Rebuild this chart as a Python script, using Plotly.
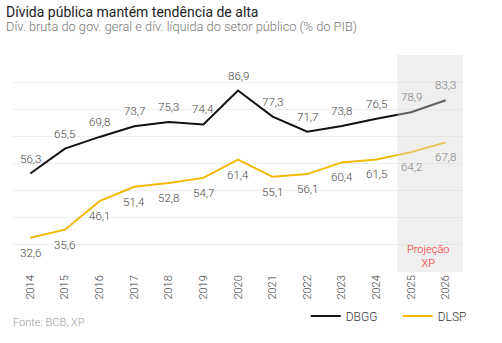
import plotly.graph_objects as go

years = list(range(2014, 2027))
dbgg = [56.3, 65.5, 69.8, 73.7, 75.3, 74.4, 86.9, 77.3, 71.7, 73.8, 76.5, 78.9, 83.3]
dlsp = [32.6, 35.6, 46.1, 51.4, 52.8, 54.7, 61.4, 55.1, 56.1, 60.4, 61.5, 64.2, 67.8]
proj_start = 2024.6

def fmt(v):
    return f"{v:.1f}".replace(".", ",")

FONT = "Roboto"

W, H = 502, 343
ml, mr, mt, mb = 13, 14, 55, 66
pw, ph = W - ml - mr, H - mt - mb

def px(xp):
    return (xp - ml) / pw

def py(yp):
    return (H - mb - yp) / ph

def lab_font(x):
    col = "#808080" if x > proj_start else "#444444"
    return dict(family=FONT, size=11.5, color=col, weight=300)

fig = go.Figure()
fig.add_trace(go.Scatter(x=years, y=dbgg, name="DBGG", mode="lines",
                         line=dict(color="#111111", width=2)))
fig.add_trace(go.Scatter(x=years, y=dlsp, name="DLSP", mode="lines",
                         line=dict(color="#f5b800", width=2)))

# value labels
for x, v in zip(years, dbgg):
    fig.add_annotation(x=x, y=v, text=fmt(v), showarrow=False, yshift=15,
                       font=lab_font(x), yanchor="middle")
for x, v in zip(years, dlsp):
    fig.add_annotation(x=x, y=v, text=fmt(v), showarrow=False, yshift=-15,
                       font=lab_font(x), yanchor="middle")

# projection shading (overlay)
fig.add_shape(type="rect", xref="x", yref="y", x0=proj_start, x1=2026.5, y0=20, y1=100,
              fillcolor="rgba(215,215,215,0.4)", line_width=0, layer="above")

fig.add_annotation(x=2025.5, y=py(261), xref="x", yref="paper", text="Projeção<br>XP",
                   showarrow=False, font=dict(family=FONT, size=11, color="#ff2b2b", weight=300),
                   yanchor="middle")

fig.add_annotation(x=px(4), y=py(11), xref="paper", yref="paper",
                   text="Dívida pública mantém tendência de alta",
                   showarrow=False, xanchor="left", yanchor="middle",
                   font=dict(family=FONT, size=14, color="#222222"))
fig.add_annotation(x=px(4), y=py(26), xref="paper", yref="paper",
                   text="Dív. bruta do gov. geral e dív. líquida do setor público (% do PIB)",
                   showarrow=False, xanchor="left", yanchor="middle",
                   font=dict(family=FONT, size=12.8, color="#777777", weight=300))
fig.add_annotation(x=px(11), y=py(329), xref="paper", yref="paper",
                   text="Fonte: BCB, XP",
                   showarrow=False, xanchor="left", yanchor="middle",
                   font=dict(family=FONT, size=11, color="#999999", weight=300))

fig.update_layout(
    width=W, height=H,
    margin=dict(l=ml, r=mr, t=mt, b=mb),
    paper_bgcolor="white", plot_bgcolor="white",
    showlegend=True,
    legend=dict(orientation="h", x=px(322), y=py(322), xanchor="left", yanchor="middle",
                font=dict(family=FONT, size=12, color="#333333", weight=300),
                bgcolor="rgba(0,0,0,0)", entrywidth=47, entrywidthmode="pixels",
                itemwidth=30),
    xaxis=dict(range=[2013.5, 2026.5], tickmode="array", tickvals=years,
               ticktext=[str(y) for y in years], tickangle=-90,
               tickfont=dict(family=FONT, size=11, color="#444444", weight=300),
               showgrid=False, zeroline=False, showline=False, ticks=""),
    yaxis=dict(range=[20, 100], dtick=10, showticklabels=False,
               gridcolor="#eeeeee", gridwidth=1, zeroline=False, showline=False),
)

fig.write_html("out.html")
